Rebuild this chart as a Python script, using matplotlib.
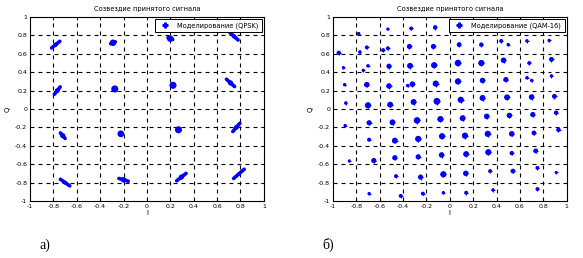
import matplotlib
matplotlib.use("Agg")
import matplotlib.pyplot as plt
import numpy as np
from matplotlib.lines import Line2D
from matplotlib.collections import LineCollection

# QPSK constellation clusters: centre and half-extent of the smear
qpsk_x = [-0.78, -0.29, 0.20, 0.745, -0.767, -0.275, 0.223, 0.715,
          -0.72, -0.223, 0.27, 0.765, -0.70, -0.20, 0.295, 0.787]
qpsk_y = [0.70, 0.72, 0.765, 0.79, 0.20, 0.218, 0.258, 0.284,
          -0.29, -0.27, -0.226, -0.20, -0.80, -0.77, -0.74, -0.705]
qpsk_dx = [0.035, 0.02, 0.02, 0.035, 0.025, 0.0, 0.0, 0.035,
           0.02, 0.0, 0.0, 0.03, 0.04, 0.04, 0.04, 0.045]
qpsk_dy = [0.036, 0.01, -0.01, -0.04, 0.04, 0.0, 0.0, -0.04,
           -0.03, 0.0, 0.0, 0.045, -0.036, -0.015, 0.04, 0.05]
qpsk_s = [10, 22, 22, 10, 12, 26, 26, 14, 14, 24, 26, 12, 8, 16, 14, 6]

# QAM-16 received clusters (centre, size)
qam_x = [-0.78, -0.53, -0.33, -0.125,
         -0.95, -0.77, -0.71, -0.57, -0.53, -0.345, -0.14, 0.08, 0.27, 0.44, 0.50, 0.66, 0.85,
         -0.91, -0.74, -0.70, -0.52, -0.34, -0.134, 0.07, 0.27, 0.46, 0.68, 0.87,
         -0.90, -0.71, -0.52, -0.32, -0.36, -0.12, 0.07, 0.28, 0.48, 0.66, 0.70, 0.87,
         -0.89, -0.70, -0.51, -0.31, -0.11, 0.094, 0.28, 0.49, 0.70, 0.895,
         -0.895, -0.69, -0.49, -0.28, -0.08, 0.11, 0.316, 0.51, 0.71, 0.91,
         -0.69, -0.47, -0.27, -0.066, 0.13, 0.325, 0.53, 0.72, 0.93,
         -0.86, -0.65, -0.47, -0.27, -0.07, 0.14, 0.33, 0.53, 0.735,
         -0.46, -0.25, -0.055, 0.137, 0.345, 0.54, 0.75, 0.91,
         -0.69, -0.42, -0.23, -0.055, 0.14, 0.37, 0.75]
qam_y = [0.82, 0.87, 0.876, 0.887,
         0.61, 0.62, 0.67, 0.64, 0.66, 0.68, 0.68, 0.70, 0.70, 0.74, 0.70, 0.74, 0.745,
         0.45, 0.42, 0.47, 0.465, 0.47, 0.476, 0.50, 0.50, 0.53, 0.50, 0.54,
         0.265, 0.265, 0.25, 0.27, 0.255, 0.276, 0.30, 0.31, 0.32, 0.34, 0.31, 0.36,
         0.065, 0.04, 0.047, 0.076, 0.084, 0.10, 0.12, 0.127, 0.13, 0.138,
         -0.18, -0.15, -0.145, -0.124, -0.11, -0.10, -0.08, -0.07, -0.06, -0.04,
         -0.333, -0.344, -0.325, -0.296, -0.29, -0.27, -0.27, -0.26, -0.226,
         -0.565, -0.56, -0.53, -0.52, -0.50, -0.49, -0.47, -0.48, -0.455,
         -0.73, -0.74, -0.71, -0.70, -0.675, -0.675, -0.64, -0.69,
         -0.92, -0.945, -0.92, -0.91, -0.91, -0.88, -0.87]
qam_s = [6, 5, 8, 10,
         10, 6, 8, 8, 8, 14, 14, 12, 10, 8, 6, 6, 6,
         5, 6, 6, 14, 18, 20, 22, 20, 16, 8, 12,
         6, 16, 16, 16, 6, 20, 20, 16, 14, 6, 6, 6,
         6, 20, 18, 18, 24, 20, 18, 18, 16, 12,
         6, 14, 18, 22, 20, 18, 16, 16, 14, 10,
         8, 18, 20, 20, 20, 20, 16, 12, 10,
         5, 14, 14, 14, 16, 18, 20, 10, 12,
         8, 14, 20, 16, 8, 12, 8, 5,
         6, 8, 8, 6, 8, 6, 8]

ticks = [-1, -0.8, -0.6, -0.4, -0.2, 0, 0.2, 0.4, 0.6, 0.8, 1]
tick_labels = ["-1", "-0.8", "-0.6", "-0.4", "-0.2", "0", "0.2", "0.4", "0.6", "0.8", "1"]

blue = "#0000ff"

fig = plt.figure(figsize=(5.83, 2.58), dpi=100)


def dashed_grid(ax):
    # dashed grid built from short solid pieces
    segs = []
    xs = np.arange(-1, 1, 0.068)
    ys = np.arange(-1, 1, 0.086)
    for t in ticks[1:-1]:
        for y0 in ys:
            segs.append([(t, y0), (t, min(y0 + 0.043, 1))])
        for x0 in xs:
            segs.append([(x0, t), (min(x0 + 0.034, 1), t)])
    ax.add_collection(LineCollection(segs, colors="black", linewidths=0.8, zorder=1))


def setup(ax, legend_text):
    ax.set_xlim(-1, 1)
    ax.set_ylim(-1, 1)
    ax.set_xticks(ticks, labels=tick_labels)
    ax.set_yticks(ticks, labels=tick_labels)
    ax.tick_params(direction="in", length=2, width=0.6, labelsize=4.5, pad=2,
                   top=True, right=True)
    ax.set_title("Созвездие принятого сигнала", fontsize=4.8, pad=4)
    ax.set_xlabel("I", fontsize=5, labelpad=1)
    ax.set_ylabel("Q", fontsize=5, labelpad=3)
    handle = Line2D([], [], color=blue, marker="P", markersize=3.5, linestyle="none")
    leg = ax.legend([handle], [legend_text], loc="upper right", fontsize=4.8,
                    frameon=True, fancybox=False, framealpha=1, edgecolor="black",
                    borderpad=0.5, handletextpad=0.8, borderaxespad=0.3)
    leg.get_frame().set_linewidth(0.7)
    leg.set_zorder(10)
    dashed_grid(ax)


ax1 = fig.add_axes([0.0515, 0.221, 0.401, 0.713])
setup(ax1, "Моделирование (QPSK)")
for x, y, dx, dy in zip(qpsk_x, qpsk_y, qpsk_dx, qpsk_dy):
    ax1.plot([x - dx, x + dx], [y - dy, y + dy], color=blue, linewidth=2.6,
             solid_capstyle="round", zorder=3)
ax1.scatter(qpsk_x, qpsk_y, s=qpsk_s, color=blue, marker="o", linewidths=0, zorder=3)

ax2 = fig.add_axes([0.571, 0.221, 0.401, 0.713])
setup(ax2, "Моделирование (QAM-16)")
ax2.scatter(qam_x, qam_y, s=qam_s, color=blue, marker="o", linewidths=0, zorder=3)
ax2.scatter(qam_x, qam_y, s=[v * 0.9 for v in qam_s], color=blue, marker="+",
            linewidths=0.8, zorder=3)

for ax in (ax1, ax2):
    ax.set_xlim(-1, 1)
    ax.set_ylim(-1, 1)

fig.text(45 / 583, 1 - 245 / 258, "а)", fontsize=10, family="Liberation Serif",
         ha="center", va="center")
fig.text(328 / 583, 1 - 245 / 258, "б)", fontsize=10, family="Liberation Serif",
         ha="center", va="center")

fig.savefig("out.png", dpi=100)
